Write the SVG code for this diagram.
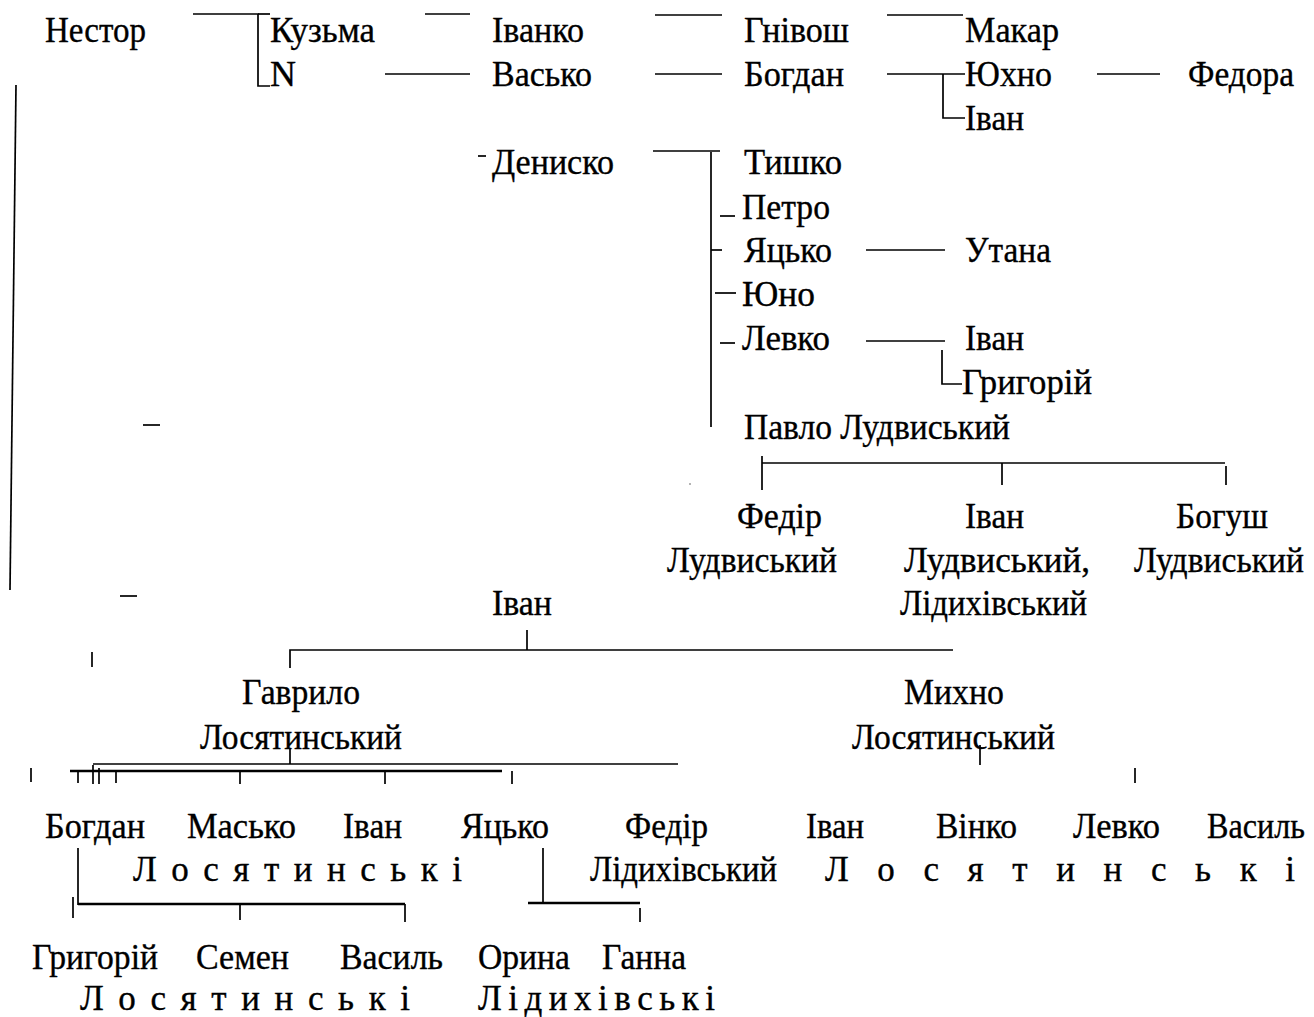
<svg xmlns="http://www.w3.org/2000/svg" width="1314" height="1017" viewBox="0 0 1314 1017" font-family="'Liberation Serif', 'Times New Roman', Tinos, 'DejaVu Serif', serif">
<style>
line,polyline{stroke:#000;stroke-width:1.7;fill:none}
.t{stroke-width:2.4}
</style>
<rect width="1314" height="1017" fill="#fff"/>
<g id="connectors">
<polyline points="193,14 258,14 258,86 270,86"/>
<line x1="258" y1="14" x2="270" y2="14"/>
<line x1="425" y1="14" x2="470" y2="14"/>
<line x1="655" y1="15" x2="722" y2="15"/>
<line x1="887" y1="15" x2="963" y2="15"/>
<line x1="385" y1="74" x2="470" y2="74"/>
<line x1="655" y1="74" x2="722" y2="74"/>
<line x1="887" y1="74" x2="965" y2="74"/>
<polyline points="943,74 943,118 965,118"/>
<line x1="1097" y1="74" x2="1160" y2="74"/>
<line x1="478" y1="156" x2="486" y2="156"/>
<line x1="653" y1="151" x2="720" y2="151"/>
<line x1="711" y1="152" x2="711" y2="427"/>
<line x1="720" y1="216" x2="735" y2="216"/>
<line x1="711" y1="250" x2="722" y2="250"/>
<line x1="866" y1="250" x2="945" y2="250"/>
<line x1="715" y1="293" x2="736" y2="293"/>
<line x1="720" y1="343" x2="735" y2="343"/>
<line x1="866" y1="341" x2="945" y2="341"/>
<polyline points="942,350 942,384 962,384"/>
<line x1="762" y1="456" x2="762" y2="490"/>
<line x1="762" y1="463" x2="1225" y2="463"/>
<line x1="1002" y1="463" x2="1002" y2="485"/>
<line x1="1226" y1="466" x2="1226" y2="485"/>
<line x1="16" y1="85" x2="10" y2="590"/>
<line x1="143" y1="425" x2="160" y2="425"/>
<line x1="120" y1="596" x2="137" y2="596"/>
<line x1="92" y1="652" x2="92" y2="667"/>
<line x1="527" y1="630" x2="527" y2="650"/>
<polyline points="290,668 290,650 953,650"/>
<line x1="290" y1="748" x2="290" y2="764"/>
<line x1="93" y1="764" x2="678" y2="764"/>
<line class="t" x1="70" y1="771" x2="502" y2="771"/>
<line x1="31" y1="768" x2="31" y2="782"/>
<line x1="78" y1="771" x2="78" y2="783"/>
<line x1="93" y1="765" x2="93" y2="784"/>
<line x1="99" y1="768" x2="99" y2="784"/>
<line x1="116" y1="771" x2="116" y2="783"/>
<line x1="240" y1="771" x2="240" y2="784"/>
<line x1="385" y1="771" x2="385" y2="784"/>
<line x1="512" y1="771" x2="512" y2="784"/>
<line x1="980" y1="745" x2="980" y2="765"/>
<line x1="1135" y1="768" x2="1135" y2="783"/>
<line x1="78" y1="848" x2="78" y2="905"/>
<line x1="73" y1="897" x2="73" y2="918"/>
<line class="t" x1="78" y1="904" x2="405" y2="904"/>
<line x1="240" y1="904" x2="240" y2="920"/>
<line x1="405" y1="904" x2="405" y2="922"/>
<line x1="543" y1="848" x2="543" y2="903"/>
<line class="t" x1="528" y1="903" x2="640" y2="903"/>
<line x1="640" y1="908" x2="640" y2="922"/>
<circle cx="690" cy="484" r="0.8" fill="#555"/>
</g>
<g id="nodes" font-size="35" fill="#000" stroke="#000" stroke-width="0.35">
<g id="n-nestor"><text x="45" y="42" textLength="101" lengthAdjust="spacingAndGlyphs">Нестор</text></g>
<g id="n-kuzma"><text x="270" y="42" textLength="105" lengthAdjust="spacingAndGlyphs">Кузьма</text></g>
<g id="n-ivanko"><text x="492" y="42" textLength="92" lengthAdjust="spacingAndGlyphs">Іванко</text></g>
<g id="n-hnivosh"><text x="744" y="42" textLength="105" lengthAdjust="spacingAndGlyphs">Гнівош</text></g>
<g id="n-makar"><text x="965" y="42" textLength="94" lengthAdjust="spacingAndGlyphs">Макар</text></g>
<g id="n-n"><text x="270" y="86" textLength="26" lengthAdjust="spacingAndGlyphs">N</text></g>
<g id="n-vasko"><text x="492" y="86" textLength="100" lengthAdjust="spacingAndGlyphs">Васько</text></g>
<g id="n-bohdan1"><text x="744" y="86" textLength="100" lengthAdjust="spacingAndGlyphs">Богдан</text></g>
<g id="n-yukhno"><text x="965" y="86" textLength="87" lengthAdjust="spacingAndGlyphs">Юхно</text></g>
<g id="n-fedora"><text x="1188" y="86" textLength="106" lengthAdjust="spacingAndGlyphs">Федора</text></g>
<g id="n-ivan1"><text x="965" y="130" textLength="59" lengthAdjust="spacingAndGlyphs">Іван</text></g>
<g id="n-denysko"><text x="492" y="174" textLength="122" lengthAdjust="spacingAndGlyphs">Дениско</text></g>
<g id="n-tyshko"><text x="744" y="174" textLength="98" lengthAdjust="spacingAndGlyphs">Тишко</text></g>
<g id="n-petro"><text x="742" y="219" textLength="88" lengthAdjust="spacingAndGlyphs">Петро</text></g>
<g id="n-yatsko1"><text x="744" y="262" textLength="88" lengthAdjust="spacingAndGlyphs">Яцько</text></g>
<g id="n-utana"><text x="965" y="262" textLength="86" lengthAdjust="spacingAndGlyphs">Утана</text></g>
<g id="n-yuno"><text x="742" y="306" textLength="73" lengthAdjust="spacingAndGlyphs">Юно</text></g>
<g id="n-levko1"><text x="742" y="350" textLength="88" lengthAdjust="spacingAndGlyphs">Левко</text></g>
<g id="n-ivan2"><text x="965" y="350" textLength="59" lengthAdjust="spacingAndGlyphs">Іван</text></g>
<g id="n-hryhorii1"><text x="962" y="394" textLength="130" lengthAdjust="spacingAndGlyphs">Григорій</text></g>
<g id="n-pavlo"><text x="744" y="439" textLength="266" lengthAdjust="spacingAndGlyphs">Павло Лудвиський</text></g>
<g id="n-fedir1"><text x="737" y="528" textLength="85" lengthAdjust="spacingAndGlyphs">Федір</text><text x="667" y="572" textLength="170" lengthAdjust="spacingAndGlyphs">Лудвиський</text></g>
<g id="n-ivan3"><text x="965" y="528" textLength="59" lengthAdjust="spacingAndGlyphs">Іван</text><text x="904" y="572" textLength="186" lengthAdjust="spacingAndGlyphs">Лудвиський,</text><text x="900" y="615" textLength="187" lengthAdjust="spacingAndGlyphs">Лідихівський</text></g>
<g id="n-bohush"><text x="1176" y="528" textLength="92" lengthAdjust="spacingAndGlyphs">Богуш</text><text x="1134" y="572" textLength="170" lengthAdjust="spacingAndGlyphs">Лудвиський</text></g>
<g id="n-ivan4"><text x="492" y="615" textLength="60" lengthAdjust="spacingAndGlyphs">Іван</text></g>
<g id="n-havrylo"><text x="242" y="704" textLength="118" lengthAdjust="spacingAndGlyphs">Гаврило</text><text x="200" y="749" textLength="202" lengthAdjust="spacingAndGlyphs">Лосятинський</text></g>
<g id="n-mykhno"><text x="904" y="704" textLength="100" lengthAdjust="spacingAndGlyphs">Михно</text><text x="852" y="749" textLength="203" lengthAdjust="spacingAndGlyphs">Лосятинський</text></g>
<g id="n-bohdan2"><text x="45" y="838" textLength="100" lengthAdjust="spacingAndGlyphs">Богдан</text></g>
<g id="n-masko"><text x="187" y="838" textLength="109" lengthAdjust="spacingAndGlyphs">Масько</text></g>
<g id="n-ivan5"><text x="343" y="838" textLength="59" lengthAdjust="spacingAndGlyphs">Іван</text></g>
<g id="n-yatsko2"><text x="461" y="838" textLength="88" lengthAdjust="spacingAndGlyphs">Яцько</text></g>
<g id="n-fedir2"><text x="625" y="838" textLength="83" lengthAdjust="spacingAndGlyphs">Федір</text><text x="590" y="881" textLength="187" lengthAdjust="spacingAndGlyphs">Лідихівський</text></g>
<g id="n-ivan6"><text x="806" y="838" textLength="58" lengthAdjust="spacingAndGlyphs">Іван</text></g>
<g id="n-vinko"><text x="936" y="838" textLength="81" lengthAdjust="spacingAndGlyphs">Вінко</text></g>
<g id="n-levko2"><text x="1073" y="838" textLength="87" lengthAdjust="spacingAndGlyphs">Левко</text></g>
<g id="n-vasyl1"><text x="1207" y="838" textLength="98" lengthAdjust="spacingAndGlyphs">Василь</text></g>
<g id="lbl-los1"><text x="133" y="881" textLength="329" lengthAdjust="spacing">Л о с я т и н с ь к і</text></g>
<g id="lbl-los2"><text x="825" y="881" textLength="470" lengthAdjust="spacing">Л о с я т и н с ь к і</text></g>
<g id="n-hryhorii2"><text x="32" y="969" textLength="126" lengthAdjust="spacingAndGlyphs">Григорій</text></g>
<g id="n-semen"><text x="196" y="969" textLength="93" lengthAdjust="spacingAndGlyphs">Семен</text></g>
<g id="n-vasyl2"><text x="340" y="969" textLength="103" lengthAdjust="spacingAndGlyphs">Василь</text></g>
<g id="n-oryna"><text x="478" y="969" textLength="92" lengthAdjust="spacingAndGlyphs">Орина</text></g>
<g id="n-hanna"><text x="602" y="969" textLength="84" lengthAdjust="spacingAndGlyphs">Ганна</text></g>
<g id="lbl-los3"><text x="80" y="1010" textLength="330" lengthAdjust="spacing">Л о с я т и н с ь к і</text></g>
<g id="lbl-lid"><text x="478" y="1010" textLength="237" lengthAdjust="spacing">Л і д и х і в с ь к і</text></g>
</g>
</svg>
